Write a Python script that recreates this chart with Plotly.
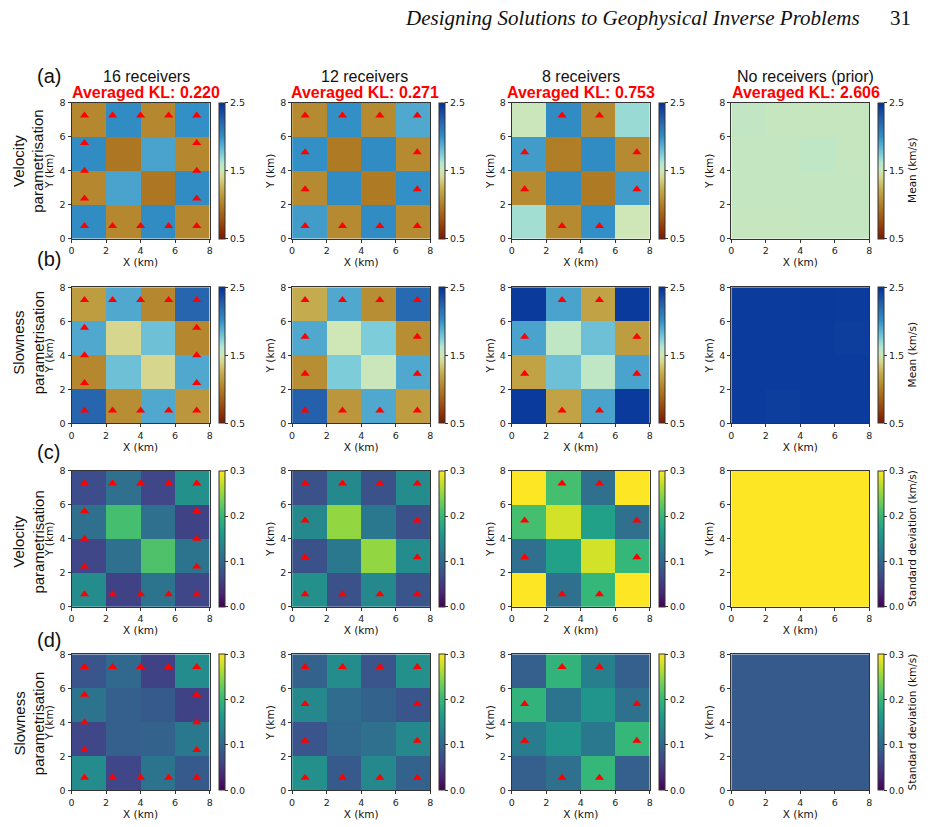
import plotly.graph_objects as go

W, H = 930, 827

# ---------------- data ----------------
cell_x = [1, 3, 5, 7]          # cell centres (km), cells span 0-8
cell_y = [7, 5, 3, 1]          # rows listed top -> bottom
tick_km = [0, 2, 4, 6, 8]

col_titles = ["16 receivers", "12 receivers", "8 receivers", "No receivers (prior)"]
kl_values = ["0.220", "0.271", "0.753", "2.606"]
row_tags = ["(a)", "(b)", "(c)", "(d)"]
row_names = ["Velocity<br>parametrisation", "Slowness<br>parametrisation",
             "Velocity<br>parametrisation", "Slowness<br>parametrisation"]
cbar_titles = ["Mean (km/s)", "Mean (km/s)", "Standard deviation (km/s)", "Standard deviation (km/s)"]
mean_ticks = [0.5, 1.5, 2.5]
std_ticks = [0.0, 0.1, 0.2, 0.3]

rec16_x = [0.75, 2.375, 4.0, 5.625, 7.25, 0.75, 2.375, 4.0, 5.625, 7.25, 0.75, 0.75, 0.75, 7.25, 7.25, 7.25]
rec16_y = [7.25, 7.25, 7.25, 7.25, 7.25, 0.75, 0.75, 0.75, 0.75, 0.75, 2.375, 4.0, 5.625, 2.375, 4.0, 5.625]
rec12_x = [0.75, 2.917, 5.083, 7.25, 0.75, 2.917, 5.083, 7.25, 0.75, 0.75, 7.25, 7.25]
rec12_y = [7.25, 7.25, 7.25, 7.25, 0.75, 0.75, 0.75, 0.75, 2.917, 5.083, 2.917, 5.083]
rec8_x = [2.917, 5.083, 2.917, 5.083, 0.75, 0.75, 7.25, 7.25]
rec8_y = [7.25, 7.25, 0.75, 0.75, 2.917, 5.083, 2.917, 5.083]

vel_mean_16 = [[1.05, 2.02, 1.05, 2.00],
               [2.02, 0.96, 1.92, 1.05],
               [1.05, 1.92, 0.96, 2.02],
               [2.02, 1.05, 2.02, 1.05]]
vel_mean_12 = [[1.06, 2.00, 1.06, 1.90],
               [2.00, 0.98, 2.02, 1.06],
               [1.06, 2.02, 0.98, 2.00],
               [1.95, 1.06, 2.02, 1.06]]
vel_mean_8 = [[1.52, 2.02, 1.06, 1.68],
              [1.95, 1.00, 2.02, 1.06],
              [1.06, 2.02, 0.98, 1.95],
              [1.66, 1.06, 2.00, 1.50]]
vel_mean_0 = [[1.56, 1.54, 1.54, 1.54],
              [1.55, 1.55, 1.57, 1.54],
              [1.55, 1.55, 1.55, 1.55],
              [1.54, 1.54, 1.55, 1.55]]

slw_mean_16 = [[1.15, 1.90, 1.05, 2.22],
               [1.90, 1.40, 1.80, 1.05],
               [1.05, 1.80, 1.40, 1.90],
               [2.22, 1.08, 1.90, 1.12]]
slw_mean_12 = [[1.22, 1.90, 1.08, 2.20],
               [1.90, 1.50, 1.75, 1.08],
               [1.08, 1.75, 1.52, 1.90],
               [2.25, 1.12, 1.90, 1.15]]
slw_mean_8 = [[2.45, 1.92, 1.18, 2.45],
              [1.92, 1.57, 1.80, 1.15],
              [1.18, 1.80, 1.57, 1.92],
              [2.45, 1.18, 1.92, 2.45]]
slw_mean_0 = [[2.44, 2.44, 2.45, 2.44],
              [2.44, 2.44, 2.44, 2.43],
              [2.44, 2.44, 2.44, 2.44],
              [2.44, 2.43, 2.44, 2.44]]

vel_std_16 = [[0.070, 0.110, 0.065, 0.150],
              [0.110, 0.210, 0.110, 0.060],
              [0.065, 0.110, 0.215, 0.115],
              [0.145, 0.060, 0.115, 0.065]]
vel_std_12 = [[0.075, 0.140, 0.075, 0.145],
              [0.140, 0.250, 0.120, 0.075],
              [0.075, 0.120, 0.250, 0.145],
              [0.150, 0.075, 0.140, 0.080]]
vel_std_8 = [[0.300, 0.210, 0.110, 0.300],
             [0.210, 0.280, 0.170, 0.110],
             [0.110, 0.170, 0.280, 0.200],
             [0.300, 0.110, 0.200, 0.300]]
vel_std_0 = [[0.300, 0.300, 0.300, 0.300],
             [0.300, 0.300, 0.300, 0.300],
             [0.300, 0.300, 0.300, 0.300],
             [0.300, 0.300, 0.300, 0.300]]

slw_std_16 = [[0.080, 0.100, 0.060, 0.145],
              [0.115, 0.090, 0.085, 0.060],
              [0.065, 0.090, 0.095, 0.120],
              [0.145, 0.065, 0.115, 0.085]]
slw_std_12 = [[0.095, 0.145, 0.080, 0.150],
              [0.140, 0.105, 0.095, 0.080],
              [0.080, 0.100, 0.110, 0.140],
              [0.150, 0.085, 0.140, 0.095]]
slw_std_8 = [[0.090, 0.195, 0.130, 0.090],
             [0.195, 0.115, 0.155, 0.110],
             [0.125, 0.155, 0.120, 0.200],
             [0.090, 0.110, 0.200, 0.090]]
slw_std_0 = [[0.085, 0.085, 0.085, 0.085],
             [0.085, 0.085, 0.085, 0.085],
             [0.085, 0.085, 0.085, 0.085],
             [0.085, 0.085, 0.085, 0.085]]

panels = [[vel_mean_16, vel_mean_12, vel_mean_8, vel_mean_0],
          [slw_mean_16, slw_mean_12, slw_mean_8, slw_mean_0],
          [vel_std_16, vel_std_12, vel_std_8, vel_std_0],
          [slw_std_16, slw_std_12, slw_std_8, slw_std_0]]
receivers = [(rec16_x, rec16_y), (rec12_x, rec12_y), (rec8_x, rec8_y), None]

# ---------------- styling ----------------
roma = [[0.0, '#7E1700'], [0.125, '#9B4B0F'], [0.25, '#B07E26'], [0.375, '#C7B153'],
        [0.45, '#D6D68E'], [0.5, '#CFE6B6'], [0.56, '#B4E6D0'], [0.625, '#7CCCDA'],
        [0.75, '#3290C6'], [0.875, '#2560AC'], [1.0, '#033198']]

col_left = [69, 291, 512, 733]
row_top = [98, 285, 471, 657]
PW, PH = 139, 138
title_cx = [144, 364, 582, 808]
tag_cy = [71, 256, 452, 643]
name_cy = [157, 341, 543, 727]

TICK_FONT = dict(family="DejaVu Sans", size=9.5, color="#222")
LAB_FONT = dict(family="DejaVu Sans", size=10.5, color="#111")
AX = '#333'

fig = go.Figure()
annotations = []

for r in range(4):
    is_mean = r < 2
    for c in range(4):
        k = r * 4 + c + 1
        xa = 'x' if k == 1 else f'x{k}'
        ya = 'y' if k == 1 else f'y{k}'
        left, top = col_left[c], row_top[r]
        fig.add_trace(go.Heatmap(
            z=panels[r][c], x=cell_x, y=cell_y, xaxis=xa, yaxis=ya,
            zmin=0.5 if is_mean else 0.0, zmax=2.5 if is_mean else 0.3,
            colorscale=roma if is_mean else 'Viridis',
            hoverinfo='skip',
            colorbar=dict(
                x=(left + 148) / W, xanchor='left', xpad=0,
                y=1 - top / H, yanchor='top', ypad=0,
                len=PH / H, lenmode='fraction',
                thickness=6, thicknessmode='pixels',
                outlinewidth=1, outlinecolor=AX,
                tickvals=mean_ticks if is_mean else std_ticks,
                tickformat='.1f', ticks='outside', ticklen=3, tickwidth=1,
                tickcolor=AX, tickfont=TICK_FONT,
            ),
        ))
        rec = receivers[c]
        if rec is not None:
            fig.add_trace(go.Scatter(
                x=rec[0], y=rec[1], xaxis=xa, yaxis=ya, mode='markers',
                marker=dict(symbol='triangle-up', size=8, color='#FF0000', line=dict(width=0)),
                showlegend=False, hoverinfo='skip'))
        axcommon = dict(range=[0, 8], tickvals=tick_km, ticks='outside', ticklen=3,
                        tickwidth=1, tickcolor=AX, showline=True, linecolor=AX,
                        linewidth=1, mirror=True, showgrid=False, zeroline=False,
                        tickfont=TICK_FONT, fixedrange=True)
        fig.update_layout(**{
            ('xaxis' if k == 1 else f'xaxis{k}'): dict(
                domain=[left / W, (left + PW) / W], anchor=ya,
                title=dict(text='X (km)', font=LAB_FONT, standoff=1), **axcommon),
            ('yaxis' if k == 1 else f'yaxis{k}'): dict(
                domain=[1 - (top + PH) / H, 1 - top / H], anchor=xa,
                title=dict(text='Y (km)', font=LAB_FONT, standoff=3), **axcommon),
        })
        if r == 0:
            annotations.append(dict(x=title_cx[c] / W, y=1 - 71 / H, xref='paper', yref='paper',
                                    text=col_titles[c], showarrow=False, xanchor='center', yanchor='middle',
                                    font=dict(family='Liberation Sans', size=16, color='#111')))
            annotations.append(dict(x=title_cx[c] / W, y=1 - 88 / H, xref='paper', yref='paper',
                                    text='<b>Averaged KL: ' + kl_values[c] + '</b>', showarrow=False,
                                    xanchor='center', yanchor='middle',
                                    font=dict(family='Liberation Sans', size=16, color='#FF0000')))
    # row tag and row name
    annotations.append(dict(x=46 / W, y=1 - tag_cy[r] / H, xref='paper', yref='paper', text=row_tags[r],
                            showarrow=False, xanchor='center', yanchor='middle',
                            font=dict(family='Liberation Sans', size=20, color='#111')))
    annotations.append(dict(x=26 / W, y=1 - name_cy[r] / H, xref='paper', yref='paper', text=row_names[r],
                            showarrow=False, xanchor='center', yanchor='middle', textangle=-90,
                            font=dict(family='Liberation Sans', size=15, color='#111')))
    annotations.append(dict(x=915 / W, y=1 - (row_top[r] + PH / 2) / H, xref='paper', yref='paper',
                            text=cbar_titles[r], showarrow=False, xanchor='center', yanchor='middle',
                            textangle=-90, font=LAB_FONT))

# page header
annotations.append(dict(x=865 / W, y=1 - 12 / H, xref='paper', yref='paper',
                        text='<i>Designing Solutions to Geophysical Inverse Problems</i>',
                        showarrow=False, xanchor='right', yanchor='middle',
                        font=dict(family='Liberation Serif', size=21, color='#111')))
annotations.append(dict(x=916 / W, y=1 - 12 / H, xref='paper', yref='paper', text='31',
                        showarrow=False, xanchor='right', yanchor='middle',
                        font=dict(family='Liberation Serif', size=21, color='#111')))

fig.update_layout(width=W, height=H, margin=dict(l=0, r=0, t=0, b=0),
                  paper_bgcolor='white', plot_bgcolor='white', showlegend=False,
                  annotations=annotations)

fig.write_html("out.html")
